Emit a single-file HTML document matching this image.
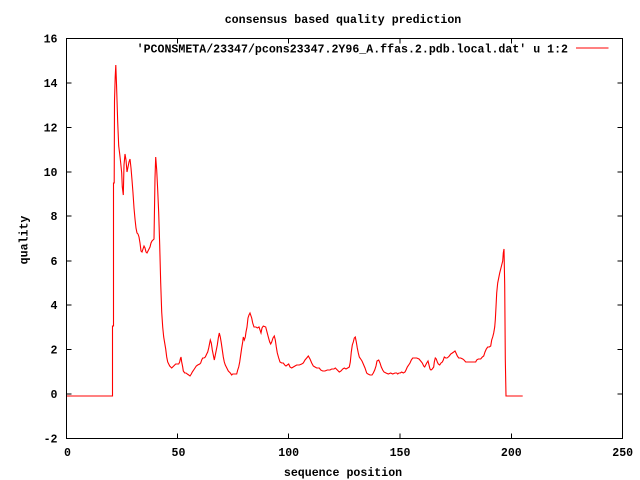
<!DOCTYPE html>
<html>
<head>
<meta charset="utf-8">
<style>
html,body{margin:0;padding:0;background:#fff;}
svg{display:block;}
text{font-family:"Liberation Mono",monospace;font-weight:bold;font-size:11.6px;fill:#000;}
</style>
</head>
<body>
<svg width="640" height="480" viewBox="0 0 640 480" xmlns="http://www.w3.org/2000/svg">
<rect x="0" y="0" width="640" height="480" fill="#fff"/>
<text x="343" y="23" text-anchor="middle">consensus based quality prediction</text>

<!-- ticks -->
<g stroke="#000" stroke-width="1" shape-rendering="crispEdges">
<path d="M66.5 38.6h5M66.5 83h5M66.5 127.5h5M66.5 171.9h5M66.5 216.2h5M66.5 260.8h5M66.5 305.2h5M66.5 349.7h5M66.5 394.1h5M66.5 438.5h5
M622.5 38.6h-5M622.5 83h-5M622.5 127.5h-5M622.5 171.9h-5M622.5 216.2h-5M622.5 260.8h-5M622.5 305.2h-5M622.5 349.7h-5M622.5 394.1h-5M622.5 438.5h-5
M177.3 438.5v-5M288.7 438.5v-5M400 438.5v-5M511.3 438.5v-5
M177.3 38.5v5M288.7 38.5v5M400 38.5v5M511.3 38.5v5" fill="none"/>
</g>

<g text-anchor="end">
<text x="57.5" y="42.6">16</text>
<text x="57.5" y="87">14</text>
<text x="57.5" y="131.5">12</text>
<text x="57.5" y="175.9">10</text>
<text x="57.5" y="220.2">8</text>
<text x="57.5" y="264.8">6</text>
<text x="57.5" y="309.2">4</text>
<text x="57.5" y="353.7">2</text>
<text x="57.5" y="398.1">0</text>
<text x="57.5" y="442.5">-2</text>
</g>
<g text-anchor="middle">
<text x="67.5" y="456">0</text>
<text x="178.5" y="456">50</text>
<text x="288.7" y="456">100</text>
<text x="400" y="456">150</text>
<text x="511.3" y="456">200</text>
<text x="622.7" y="456">250</text>
</g>
<text x="343" y="476" text-anchor="middle">sequence position</text>
<text transform="translate(27.5,240) rotate(-90)" text-anchor="middle">quality</text>

<text x="568" y="52.5" text-anchor="end">'PCONSMETA/23347/pcons23347.2Y96_A.ffas.2.pdb.local.dat' u 1:2</text>
<line x1="576" y1="48" x2="608.5" y2="48" stroke="#ff0000" stroke-width="1" shape-rendering="crispEdges"/>

<polyline fill="none" stroke="#ff0000" stroke-width="1.1" stroke-linejoin="miter" points="
66,396 112.5,396 112.5,326 113.5,326 113.5,183 114.2,183 114.5,101 115.2,77 115.8,65 116.5,84 117.7,122 118.7,146 119.7,154 120.7,163 121.7,173 122.3,187 123.3,195 124,165 125,154 126,160 127,172 128,167 129,162 130,159 131,168 132,180 133,193 134,208 135,219 136,228 137,233 138,234 139,237 140,243 141,251 142,252 143,249 144,246 145,248 146,252 147,253 148,251 149,249 150,247 151,243 152,241 153,240 154,239 155,178 155.7,157 156.7,170 157.7,190 158.7,213 159.7,245 160.7,283 161.7,312 162.7,327 163.7,337 164.7,343 165.7,349 166.7,357 167.7,362 168.7,364 169.7,366 170.7,367 171.7,368 172.7,367 173.7,366 174.7,365 175.7,364 178.7,364 179.7,362 180.3,359 181,357 181.7,362 182.7,367 183.3,371 184.7,373 186,373 187.3,374 188.7,375 190,376 191.3,374 192.3,372 193.7,370 195,368 196.3,366 197.7,365 199.7,364 200.7,363 201.7,360 202.7,358 204,358 205.3,357 206.7,354 207.7,352 208.7,348 209.3,345 210.3,340 211.3,343 212.3,350 213.3,355 214.3,360 215.3,355 216.3,350 217.3,345 218.3,338 219.3,333 220.3,337 221.3,343 222.3,350 223.3,357 224.3,362 225.3,365 226.3,367 227.3,369 228.3,371 229.3,372 230.3,373 231.7,375 232.7,374 236.7,374 237.7,370 238.7,367 239.7,362 240.7,355 241.7,348 242.7,342 243.3,337 244.3,340 245.3,337 246,332 247,327 248,318 249,315 250,313 251.7,318 252.7,323 254,327 256,327 257.3,328 259,327 260,330 261,333 262,328 263.3,326 265.7,327 267,332 268.3,337 269.7,342 270.7,344 271.7,342 273,338 274.3,336 275.3,340 276.3,347 277.3,353 278.7,358 280,362 281.7,363 283.3,363 284.7,365 286,366 287.3,365 288.7,364 290,367 291.7,368 293.3,367 295,366 296.7,365 299.3,365 301.7,364 303.3,363 305,360 306.7,358 308.3,356 310,359 311.7,363 313.3,366 315,367 316.7,368 319.3,368 320.7,370 322.7,371 325,371 327.3,370 330,370 331.7,369 334,369 335.3,368 337.3,370 339.3,372 341,371 342.7,369 344.3,368 346,369 347.7,368 349.3,367 350.3,362 351.3,352 352.3,345 353.3,342 354.3,338 355.3,337 356.3,342 357.3,348 358.3,353 359.3,357 360.7,359 362,361 363.3,364 365,368 366.7,373 368,374 370,375 372,375 373.3,373 374.7,370 376,366 377,361 378.7,360 380,363 381.3,367 382.7,370 384,372 386,373 388.3,374 390.7,373 392.7,374 395,373 396.7,373 397.7,374 399,373 400.3,373 401.7,372 403.3,373 405,372 406,370 407.3,367 408.7,365 410,363 411.3,360 412.7,358 416.7,358 419,359 420.7,361 422.3,363 423.7,366 424.7,367 425.7,365 426.7,363 428,361 429,365 430,369 431,370 432.3,369 433.7,367 434.3,362 435.3,358 436.3,359 437.3,362 438.3,364 439.7,365 441,363 442.3,362 443.3,360 444.3,357 445.7,358 447,358 448.3,357 449.3,356 450.7,354 452.3,353 453.7,352 455,351 456,353 457.3,356 458.7,358 460.7,358 462.7,359 464,360 465.7,362 475.7,362 476.7,360 478.3,359 480.7,359 482.3,357 483.7,356 485,352 486.3,349 487.7,347 489.3,347 490.7,346 491.7,340 492.7,337 493.7,333 494.7,327 495.3,320 496,307 496.7,293 497.7,283 498.7,278 499.7,273 500.7,269 501.7,265 502.7,261 503.3,253 504,249 504.7,285 505.3,359 506,396 522.7,396"/>

<rect x="66.5" y="38.5" width="556" height="400" fill="none" stroke="#000" stroke-width="1" shape-rendering="crispEdges"/>
</svg>
</body>
</html>
